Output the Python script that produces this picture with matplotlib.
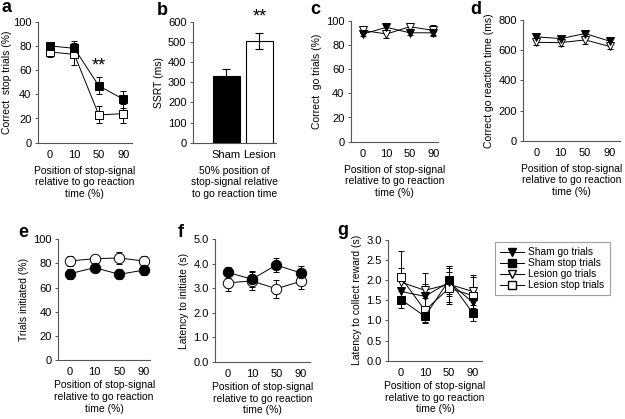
import matplotlib
matplotlib.use('Agg')
from matplotlib import pyplot as plt
from matplotlib.lines import Line2D
import numpy as np

plt.rcParams['font.family'] = ['Liberation Sans', 'DejaVu Sans']
plt.rcParams['font.size'] = 7.5

# data
positions = ['0', '10', '50', '90']

a_sham_stop = [80, 78, 47, 36]
a_sham_stop_err = [3, 6, 7, 7]
a_lesion_stop = [75, 73, 23, 24]
a_lesion_stop_err = [4, 9, 7, 8]

b_groups = ['Sham', 'Lesion']
b_ssrt = [330, 505]
b_ssrt_err = [35, 40]

c_sham_go = [89, 94.5, 90, 90]
c_sham_go_err = [2, 2, 2, 2]
c_lesion_go = [92, 89, 95, 92]
c_lesion_go_err = [2, 3, 2, 4.5]

d_sham_go = [688, 677, 710, 660]
d_sham_go_err = [20, 15, 25, 15]
d_lesion_go = [652, 650, 668, 625]
d_lesion_go_err = [15, 25, 25, 20]

e_sham = [71.5, 76.5, 71, 74.5]
e_sham_err = [4, 4, 4, 4]
e_lesion = [82, 84, 84.5, 82]
e_lesion_err = [4, 3, 5, 4]

f_sham = [3.65, 3.37, 3.95, 3.63]
f_sham_err = [0.23, 0.33, 0.27, 0.27]
f_lesion = [3.22, 3.3, 2.98, 3.28]
f_lesion_err = [0.33, 0.37, 0.37, 0.33]

g_sham_go = [1.72, 1.6, 1.95, 1.45]
g_sham_go_err = [0.3, 0.3, 0.35, 0.3]
g_sham_stop = [1.52, 1.1, 2.0, 1.18]
g_sham_stop_err = [0.22, 0.17, 0.35, 0.2]
g_lesion_go = [1.95, 1.75, 1.9, 1.72]
g_lesion_go_err = [0.35, 0.42, 0.45, 0.42]
g_lesion_stop = [2.07, 1.25, 1.8, 1.62]
g_lesion_stop_err = [0.65, 0.3, 0.4, 0.45]

xlabel = 'Position of stop-signal\nrelative to go reaction\ntime (%)'
W, H = 625, 419
spine_col = '#555555'


def make_ax(fig, left, right, top, bottom):
    # pixel box -> figure fraction
    ax = fig.add_axes([left / W, 1 - bottom / H, (right - left) / W, (bottom - top) / H])
    for s in ['top', 'right']:
        ax.spines[s].set_visible(False)
    for s in ['left', 'bottom']:
        ax.spines[s].set_color(spine_col)
        ax.spines[s].set_linewidth(0.8)
    ax.tick_params(axis='y', length=2.5, width=0.7, color=spine_col, pad=2, labelsize=8)
    ax.tick_params(axis='x', length=0, pad=5, labelsize=8)
    return ax


def series(ax, y, err, marker, face, ms):
    x = np.arange(len(y))
    ax.errorbar(x, y, yerr=err, fmt='none', ecolor='black', elinewidth=0.7,
                capsize=2.5, capthick=0.7, zorder=2)
    ax.plot(x, y, color='black', lw=0.7, marker=marker, markerfacecolor=face,
            markeredgecolor='black', markeredgewidth=0.7, markersize=ms, zorder=3)


def finish(ax, ylim, yticks, ylabel, xl, fmt, pad=4.5, ypad=3):
    ax.set_xticks(np.arange(len(positions)))
    ax.set_xticklabels(positions)
    ax.set_xlim(*xl)
    ax.set_ylim(*ylim)
    ax.set_yticks(yticks)
    ax.set_yticklabels([fmt % v for v in yticks])
    ax.set_ylabel(ylabel, labelpad=ypad)
    ax.set_xlabel(xlabel, labelpad=pad, linespacing=1.2)


fig = plt.figure(figsize=(6.25, 4.19), dpi=100)

# a
ax = make_ax(fig, 37.7, 132, 21.7, 142.7)
series(ax, a_lesion_stop, a_lesion_stop_err, 's', 'white', 5.5)
series(ax, a_sham_stop, a_sham_stop_err, 's', 'black', 5.5)
finish(ax, (0, 100), [0, 20, 40, 60, 80, 100], 'Correct  stop trials (%)', (-0.5, 3.36), '%d', ypad=1)
ax.text(2, 63, '**', ha='center', va='center', fontsize=13)

# b
ax = make_ax(fig, 192.7, 276, 21.7, 142.7)
xb = np.arange(len(b_groups))
ax.bar(xb, b_ssrt, width=0.8, color=['black', 'white'], edgecolor='black', linewidth=0.8,
       yerr=b_ssrt_err, error_kw=dict(elinewidth=0.8, capsize=3, capthick=0.8), zorder=3)
ax.set_xticks(xb)
ax.set_xticklabels(b_groups)
ax.set_xlim(-1.02, 1.5)
ax.set_ylim(0, 600)
ax.set_yticks(range(0, 601, 100))
ax.set_ylabel('SSRT (ms)', labelpad=3)
ax.set_xlabel('50% position of\nstop-signal relative\nto go reaction time', labelpad=4.5, linespacing=1.2)
ax.text(1, 625, '**', ha='center', va='center', fontsize=13, clip_on=False)

# c
ax = make_ax(fig, 350.7, 438, 20.7, 141.7)
series(ax, c_lesion_go, c_lesion_go_err, 'v', 'white', 6)
series(ax, c_sham_go, c_sham_go_err, 'v', 'black', 6)
finish(ax, (0, 100), [0, 20, 40, 60, 80, 100], 'Correct  go trials (%)', (-0.52, 3.2), '%d')

# d
ax = make_ax(fig, 523, 620, 20, 140.7)
series(ax, d_lesion_go, d_lesion_go_err, 'v', 'white', 6)
series(ax, d_sham_go, d_sham_go_err, 'v', 'black', 6)
finish(ax, (0, 800), [0, 200, 400, 600, 800], 'Correct go reaction time (ms)', (-0.55, 3.43), '%d')

# e
ax = make_ax(fig, 58.3, 150, 239.3, 360)
series(ax, e_lesion, e_lesion_err, 'o', 'white', 7.5)
series(ax, e_sham, e_sham_err, 'o', 'black', 7.5)
finish(ax, (0, 100), [0, 20, 40, 60, 80, 100], 'Trials initiated (%)', (-0.47, 3.24), '%d', pad=2.5)

# f
ax = make_ax(fig, 215, 310, 239.3, 361.7)
series(ax, f_lesion, f_lesion_err, 'o', 'white', 7.5)
series(ax, f_sham, f_sham_err, 'o', 'black', 7.5)
finish(ax, (0, 5), [0, 1, 2, 3, 4, 5], 'Latency to initiate (s)', (-0.52, 3.39), '%.1f', pad=2.5)

# g
ax = make_ax(fig, 388, 482, 240, 360.7)
series(ax, g_lesion_go, g_lesion_go_err, 'v', 'white', 6)
series(ax, g_lesion_stop, g_lesion_stop_err, 's', 'white', 5.5)
series(ax, g_sham_go, g_sham_go_err, 'v', 'black', 6)
series(ax, g_sham_stop, g_sham_stop_err, 's', 'black', 5.5)
finish(ax, (0, 3), [0, 0.5, 1.0, 1.5, 2.0, 2.5, 3.0], 'Latency to collect reward (s)', (-0.54, 3.38), '%.1f', pad=2.5)

handles = [
    Line2D([], [], color='black', lw=0.7, marker='v', mfc='black', mec='black', ms=6),
    Line2D([], [], color='black', lw=0.7, marker='s', mfc='black', mec='black', ms=5.5),
    Line2D([], [], color='black', lw=0.7, marker='v', mfc='white', mec='black', ms=6),
    Line2D([], [], color='black', lw=0.7, marker='s', mfc='white', mec='black', ms=5.5),
]
labels = ['Sham go trials', 'Sham stop trials', 'Lesion go trials', 'Lesion stop trials']
leg = fig.legend(handles, labels, loc='upper left', bbox_to_anchor=(495 / W, 1 - 242 / H),
                 fontsize=7.3, frameon=True, fancybox=False, handlelength=2.4,
                 handletextpad=0.4, labelspacing=0.1, borderpad=0.5, borderaxespad=0)
leg.get_frame().set_edgecolor('#888888')
leg.get_frame().set_linewidth(0.8)

# panel letters
for letter, xp, yp in [('a', 1, 12), ('b', 157, 15), ('c', 310, 14), ('d', 470, 14),
                       ('e', 18, 237), ('f', 178, 237), ('g', 337, 235)]:
    fig.text(xp / W, 1 - yp / H, letter, fontsize=13, fontweight='bold', va='baseline', ha='left')

fig.savefig('out.png', dpi=100)
